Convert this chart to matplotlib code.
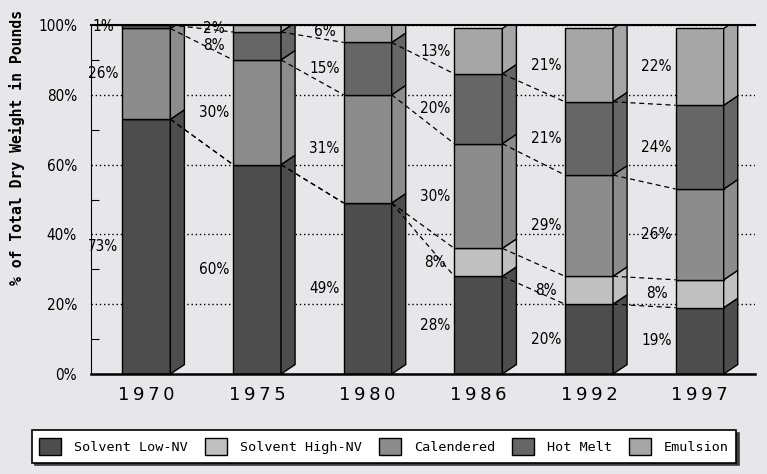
import matplotlib
matplotlib.use("Agg")
import matplotlib.pyplot as plt
from matplotlib.patches import Polygon, Patch
from matplotlib.ticker import MultipleLocator, FuncFormatter
import numpy as np

years = ["1970", "1975", "1980", "1986", "1992", "1997"]
series = ["Solvent Low-NV", "Solvent High-NV", "Calendered", "Hot Melt", "Emulsion"]
solvent_low = [73, 60, 49, 28, 20, 19]
solvent_high = [0, 0, 0, 8, 8, 8]
calendered = [26, 30, 31, 30, 29, 26]
hot_melt = [1, 8, 15, 20, 21, 24]
emulsion = [0, 2, 6, 13, 21, 22]

colors = ["#4d4d4d", "#c0c0c0", "#8c8c8c", "#666666", "#a6a6a6"]
bg = "#e7e7e9"
narrow = dict(family="DejaVu Sans", stretch="condensed", size=11)

values = np.array([solvent_low, solvent_high, calendered, hot_melt, emulsion], dtype=float)
tops = np.cumsum(values, axis=0)
bottoms = tops - values

fig = plt.figure(figsize=(7.67, 4.74), dpi=100, facecolor=bg)
ax = fig.add_axes([91 / 767, 1 - 374 / 474, (755 - 91) / 767, (374 - 25) / 474])
ax.set_facecolor(bg)

x = np.arange(len(years))
width = 0.434
dx, dy = 0.127, 2.7  # depth of the side faces

for k in range(len(series)):
    ax.bar(x, values[k], bottom=bottoms[k], width=width, color=colors[k],
           edgecolor="black", linewidth=1, zorder=2)
    for i in range(len(years)):
        if values[k, i] == 0:
            continue
        xr = x[i] + width / 2
        y0, y1 = bottoms[k, i], tops[k, i]
        side = Polygon([(xr, y0), (xr + dx, y0 + dy), (xr + dx, y1 + dy), (xr, y1)],
                       closed=True, facecolor=colors[k], edgecolor="black",
                       linewidth=1, zorder=2)
        ax.add_patch(side)
        ax.text(x[i] - 0.39, (y0 + y1) / 2, "{:.0f}%".format(values[k, i]),
                ha="center", va="center", zorder=5, **narrow)

# series lines between neighbouring bars
for k in range(len(series) - 1):
    for i in range(len(years) - 1):
        ax.plot([x[i] + width / 2, x[i + 1] - width / 2], [tops[k, i], tops[k, i + 1]],
                color="black", linewidth=0.9, linestyle=(0, (4, 3)), zorder=4)

ax.set_xlim(-0.5, len(years) - 0.5)
ax.set_ylim(0, 100)
ax.set_xticks(x)
ax.set_xticklabels(["\u2009".join(y) for y in years], fontsize=13, family="DejaVu Sans")
ax.tick_params(axis="x", length=0, pad=9)
ax.yaxis.set_major_locator(MultipleLocator(20))
ax.yaxis.set_minor_locator(MultipleLocator(10))
ax.yaxis.set_major_formatter(FuncFormatter(lambda v, p: "{:.0f}%".format(v)))
ax.tick_params(axis="y", which="major", length=0, pad=10)
ax.tick_params(axis="y", which="minor", direction="in", length=6, width=0.8)
for lab in ax.get_yticklabels():
    lab.set_family(narrow["family"])
    lab.set_stretch(narrow["stretch"])
    lab.set_fontsize(narrow["size"])
ax.grid(axis="y", which="major", color="black", linestyle=(0, (1, 2)), linewidth=1)
ax.set_axisbelow(True)

ax.spines["right"].set_visible(False)
ax.spines["top"].set_linewidth(1.5)
ax.spines["bottom"].set_linewidth(1.8)
ax.spines["left"].set_linewidth(0.8)

fig.text(17 / 767, 1 - 147 / 474, "% of Total Dry Weight in Pounds", rotation=90,
         ha="center", va="center", fontsize=10.6, family="DejaVu Sans Mono",
         fontweight="bold")

handles = [Patch(facecolor=c, edgecolor="black", linewidth=1) for c in colors]
leg = fig.legend(handles, series, loc="center", bbox_to_anchor=(384 / 767, 1 - 446.5 / 474),
                 ncol=5, frameon=True, fancybox=False,
                 shadow={"color": "#3c3c3c", "alpha": 1},
                 prop={"family": "DejaVu Sans Mono", "size": 9.7},
                 handlelength=1.63, handleheight=1.63, handletextpad=0.96,
                 columnspacing=1.26, borderpad=0.55)
leg.get_frame().set_edgecolor("black")
leg.get_frame().set_linewidth(1.2)
leg.get_frame().set_facecolor("white")

fig.savefig("out.png", dpi=100, facecolor=bg)
